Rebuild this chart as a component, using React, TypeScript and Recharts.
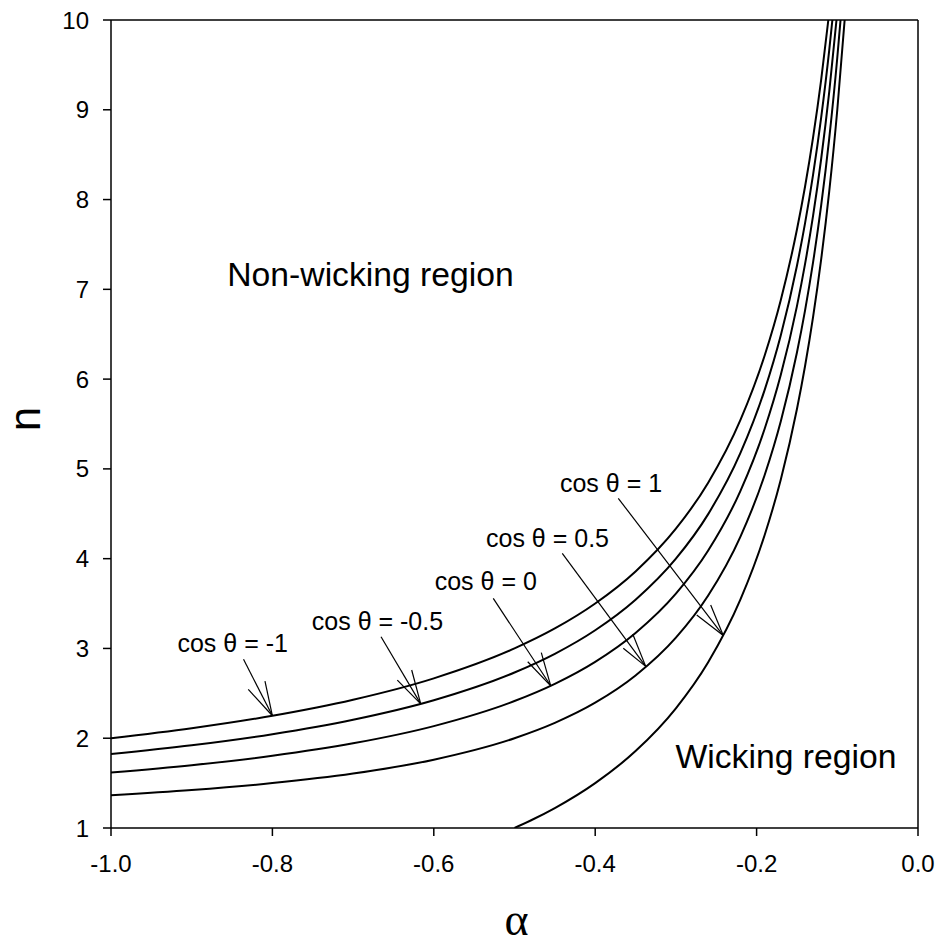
import React from "react";
import { LineChart, Line, XAxis, YAxis, ReferenceLine, ReferenceDot } from "recharts";

const FONT = "'Liberation Sans', Arial, Helvetica, sans-serif";

// Axis ticks
const ALPHA_TICKS = [-1.0, -0.8, -0.6, -0.4, -0.2, 0.0];
const N_TICKS = [1, 2, 3, 4, 5, 6, 7, 8, 9, 10];

// Curve: cos θ = -1
const alphaCosM1 = [-1.0, -0.9, -0.8, -0.7, -0.6, -0.5, -0.45, -0.4, -0.35, -0.3, -0.26, -0.22, -0.19, -0.17, -0.15, -0.14, -0.13, -0.12, -0.1111];
const nCosM1 = [2.0, 2.1111, 2.25, 2.4286, 2.6667, 3.0, 3.2222, 3.5, 3.8571, 4.3333, 4.8462, 5.5455, 6.2632, 6.8824, 7.6667, 8.1429, 8.6923, 9.3333, 10.0];

// Curve: cos θ = -0.5
const alphaCosM05 = [-1.0, -0.9, -0.8, -0.7, -0.6, -0.5, -0.45, -0.4, -0.35, -0.3, -0.26, -0.22, -0.19, -0.17, -0.15, -0.14, -0.13, -0.12, -0.11, -0.1061];
const nCosM05 = [1.8229, 1.9209, 2.0448, 2.2057, 2.4232, 2.7321, 2.9402, 3.2026, 3.5427, 4.0, 4.4963, 5.1776, 5.8807, 6.4897, 7.2633, 7.7339, 8.2778, 8.913, 9.6647, 10.0];

// Curve: cos θ = 0
const alphaCos0 = [-1.0, -0.9, -0.8, -0.7, -0.6, -0.5, -0.45, -0.4, -0.35, -0.3, -0.26, -0.22, -0.19, -0.17, -0.15, -0.14, -0.13, -0.12, -0.11, -0.101];
const nCos0 = [1.618, 1.6995, 1.8042, 1.9432, 2.135, 2.4142, 2.606, 2.8508, 3.1724, 3.6103, 4.0906, 4.7557, 5.4467, 6.0477, 6.8134, 7.2802, 7.8202, 8.4517, 9.1996, 10.0];

// Curve: cos θ = 0.5
const alphaCos05 = [-1.0, -0.9, -0.8, -0.7, -0.6, -0.5, -0.45, -0.4, -0.35, -0.3, -0.26, -0.22, -0.19, -0.17, -0.15, -0.14, -0.13, -0.12, -0.11, -0.1, -0.096];
const nCos05 = [1.366, 1.4234, 1.5, 1.6064, 1.7613, 2.0, 2.1711, 2.3956, 2.6983, 3.1196, 3.589, 4.2457, 4.9324, 5.5314, 6.2961, 6.7626, 7.3026, 7.9342, 8.6826, 9.5826, 10.0];

// Curve: cos θ = 1
const alphaCos1 = [-0.5, -0.48, -0.45, -0.4, -0.35, -0.3, -0.26, -0.22, -0.19, -0.17, -0.15, -0.14, -0.13, -0.12, -0.11, -0.1, -0.0909];
const nCos1 = [1.0, 1.0833, 1.2222, 1.5, 1.8571, 2.3333, 2.8462, 3.5455, 4.2632, 4.8824, 5.6667, 6.1429, 6.6923, 7.3333, 8.0909, 9.0, 10.0];

// Annotation labels (text anchored at centre / baseline, data coordinates)
const cosLabels = ["cos θ = -1", "cos θ = -0.5", "cos θ = 0", "cos θ = 0.5", "cos θ = 1"];
const labelAlpha = [-0.8492, -0.6698, -0.5356, -0.4591, -0.3804];
const labelN = [2.96, 3.205, 3.651, 4.127, 4.746];

// Arrows: start, tip, and two head barbs
const arrowStartAlpha = [-0.8358, -0.6654, -0.5263, -0.4408, -0.3714];
const arrowStartN = [2.879, 3.131, 3.558, 4.06, 4.672];
const arrowTipAlpha = [-0.8, -0.6162, -0.4551, -0.3374, -0.2413];
const arrowTipN = [2.25, 2.383, 2.584, 2.8, 3.144];
const head1Alpha = [-0.8299, -0.6452, -0.4836, -0.3652, -0.2742];
const head1N = [2.545, 2.648, 2.852, 3.002, 3.372];
const head2Alpha = [-0.8092, -0.6274, -0.4668, -0.3535, -0.2569];
const head2N = [2.637, 2.76, 2.953, 3.161, 3.484];

// Region labels
const regionLabels = ["Non-wicking region", "Wicking region"];
const regionAlpha = [-0.6784, -0.1636];
const regionN = [7.037, 1.665];

const zip = (xs: number[], ys: number[]) => xs.map((a, i) => ({ a, n: ys[i] }));

const series = [
  zip(alphaCosM1, nCosM1),
  zip(alphaCosM05, nCosM05),
  zip(alphaCos0, nCos0),
  zip(alphaCos05, nCos05),
  zip(alphaCos1, nCos1),
];

const YTitle = (props: any) => {
  const vb = props.viewBox || { x: 0, y: 20, width: 111, height: 808 };
  const cx = vb.x + 40;
  const cy = vb.y + vb.height / 2 - 5;
  return (
    <text x={cx} y={cy} transform={`rotate(-90 ${cx} ${cy})`} textAnchor="middle" fontSize={44} fontFamily={FONT} fill="#000">
      n
    </text>
  );
};

const XTitle = (props: any) => {
  const vb = props.viewBox || { x: 111, y: 828, width: 807, height: 60 };
  const cx = vb.x + vb.width / 2 + 2;
  const cy = vb.y + 107;
  return (
    <text x={cx} y={cy} textAnchor="middle" fontSize={46} fontFamily="'Liberation Serif', 'Times New Roman', serif" fill="#000">
      α
    </text>
  );
};

const textShape = (txt: string, size: number) => (p: any) => (
  <text x={p.cx} y={p.cy} textAnchor="middle" fontSize={size} fontFamily={FONT} fill="#000">
    {txt}
  </text>
);

export default function App() {
  return (
    <div style={{ position: "absolute", left: 0, top: 0, width: 941, height: 946, background: "#fff" }}>
      <LineChart width={941} height={946} margin={{ top: 20, right: 23, bottom: 58, left: 0 }}>
        <XAxis
          type="number"
          dataKey="a"
          domain={[-1, 0]}
          ticks={ALPHA_TICKS}
          tickFormatter={(v: number) => v.toFixed(1)}
          allowDataOverflow
          height={60}
          tickSize={8}
          tickMargin={19}
          axisLine={{ stroke: "#000", strokeWidth: 1.5 }}
          tickLine={{ stroke: "#000", strokeWidth: 1.5 }}
          tick={{ fill: "#000", fontSize: 24, fontFamily: FONT }}
          label={<XTitle />}
        />
        <YAxis
          type="number"
          dataKey="n"
          domain={[1, 10]}
          ticks={N_TICKS}
          allowDataOverflow
          width={111}
          tickSize={8}
          tickMargin={14}
          axisLine={{ stroke: "#000", strokeWidth: 1.5 }}
          tickLine={{ stroke: "#000", strokeWidth: 1.5 }}
          tick={{ fill: "#000", fontSize: 24, fontFamily: FONT }}
          label={<YTitle />}
        />
        <ReferenceLine y={10} stroke="#000" strokeWidth={1.5} />
        <ReferenceLine x={0} stroke="#000" strokeWidth={1.5} />
        {series.map((d, i) => (
          <Line
            key={i}
            data={d}
            dataKey="n"
            type="monotone"
            stroke="#000"
            strokeWidth={2}
            dot={false}
            activeDot={false}
            isAnimationActive={false}
          />
        ))}
        {cosLabels.map((t, i) => (
          <ReferenceLine
            key={`as${i}`}
            segment={[{ x: arrowStartAlpha[i], y: arrowStartN[i] }, { x: arrowTipAlpha[i], y: arrowTipN[i] }]}
            stroke="#000"
            strokeWidth={1.2}
          />
        ))}
        {cosLabels.map((t, i) => (
          <ReferenceLine
            key={`h1${i}`}
            segment={[{ x: head1Alpha[i], y: head1N[i] }, { x: arrowTipAlpha[i], y: arrowTipN[i] }]}
            stroke="#000"
            strokeWidth={1.2}
          />
        ))}
        {cosLabels.map((t, i) => (
          <ReferenceLine
            key={`h2${i}`}
            segment={[{ x: head2Alpha[i], y: head2N[i] }, { x: arrowTipAlpha[i], y: arrowTipN[i] }]}
            stroke="#000"
            strokeWidth={1.2}
          />
        ))}
        {cosLabels.map((t, i) => (
          <ReferenceDot key={`l${i}`} x={labelAlpha[i]} y={labelN[i]} r={0} shape={textShape(t, 25)} />
        ))}
        {regionLabels.map((t, i) => (
          <ReferenceDot key={`r${i}`} x={regionAlpha[i]} y={regionN[i]} r={0} shape={textShape(t, 33.7)} />
        ))}
      </LineChart>
    </div>
  );
}
